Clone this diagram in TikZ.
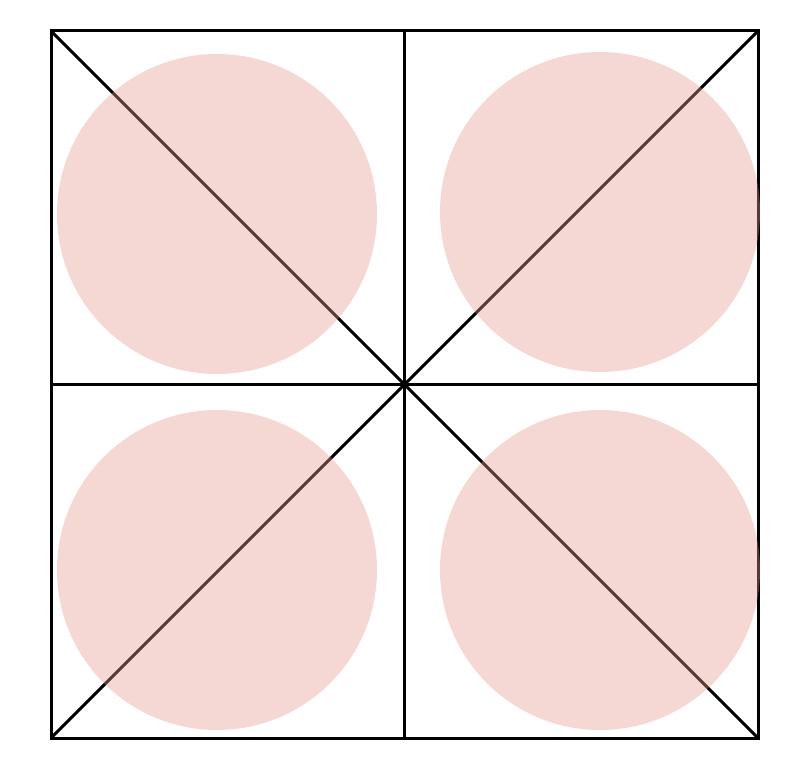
\documentclass[tikz,border=0pt]{standalone}
\usepackage{tikz}
\definecolor{disc}{RGB}{229,153,139}
\tikzset{
    frame/.style={
        draw=black,
        line width=1.5pt
    },
    blob/.style={
        fill=disc,
        fill opacity=0.38
    }
}

\begin{document}
\begin{tikzpicture}[x=0.5pt, y=-0.5pt]
\useasboundingbox (0,0) rectangle (792,770);

\coordinate (nw) at (51,31);
\coordinate (ne) at (758,31);
\coordinate (sw) at (51,738);
\coordinate (se) at (758,738);
\coordinate (c) at (404.5,384.5);
\coordinate (n) at (404.5,31);
\coordinate (s) at (404.5,738);
\coordinate (w) at (51,384.5);
\coordinate (e) at (758,384.5);

\draw[frame] (nw) rectangle (se);
\draw[frame] (n) -- (s);
\draw[frame] (w) -- (e);
\draw[frame] (nw) -- (se);
\draw[frame] (sw) -- (ne);

\fill[blob] (217,214) circle (160);
\fill[blob] (600,212) circle (160);
\fill[blob] (217,570) circle (160);
\fill[blob] (600,570) circle (160);
\end{tikzpicture}
\end{document}
